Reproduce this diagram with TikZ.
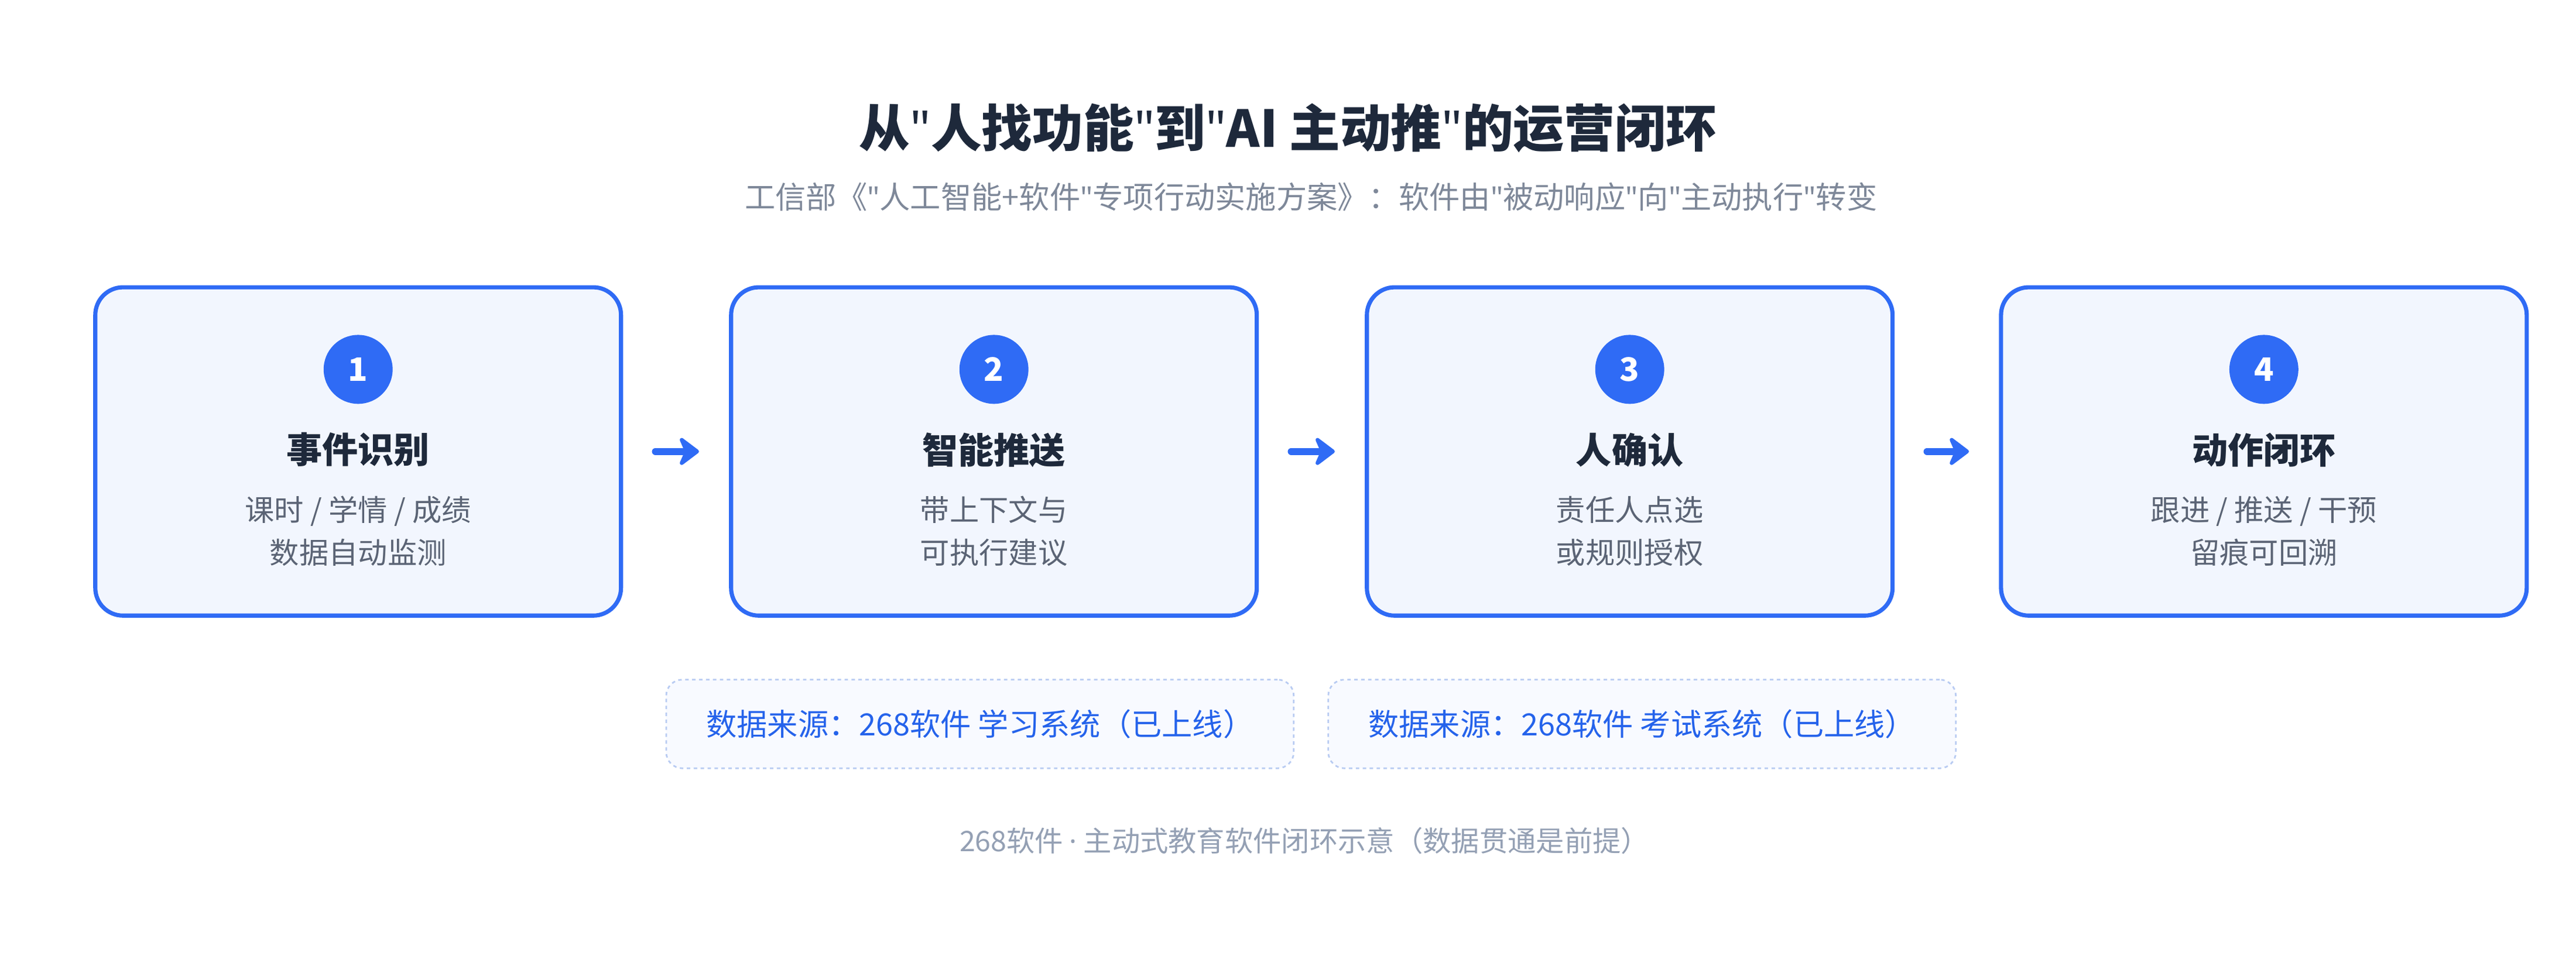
\documentclass[tikz,border=0pt]{standalone}
\usepackage{fontspec}
\setmainfont{Noto Sans CJK SC}
\newfontfamily\latinfont{Noto Sans}
\newcommand{\q}{{\latinfont"}}
\usetikzlibrary{arrows.meta}
\definecolor{mainblue}{HTML}{2F6BF5}
\definecolor{boxfill}{HTML}{F2F6FE}
\definecolor{darktext}{HTML}{1E293B}
\definecolor{graytext}{HTML}{5B6475}
\definecolor{softgray}{HTML}{94A0B4}
\definecolor{dashline}{HTML}{B8CBF2}
\definecolor{srctext}{HTML}{2563EB}
\tikzset{
  stepbox/.style={draw=mainblue,line width=3.6pt,fill=boxfill,rounded corners=24pt,
    minimum width=16cm,minimum height=10cm},
  num/.style={circle,fill=mainblue,text=white,minimum size=2.1cm,inner sep=0pt,
    font=\fontsize{28}{30}\selectfont\bfseries},
  head/.style={text=darktext,font=\fontsize{31}{34}\selectfont\bfseries},
  body/.style={text=graytext,align=center,font=\fontsize{25.5}{37}\selectfont},
  flow/.style={-{Stealth[round,length=20pt,width=30pt]},mainblue,line width=6pt,line cap=round},
  src/.style={draw=dashline,dashed,line width=1.4pt,fill=boxfill!50,rounded corners=14pt,
    minimum width=19.1cm,minimum height=2.7cm,text=srctext,font=\fontsize{26.5}{30}\selectfont}
}
\begin{document}
\begin{tikzpicture}[x=0.05cm,y=-0.05cm]
  \useasboundingbox[fill=white] (0,0) rectangle (1568,580.2);
  \node[text=darktext,font=\fontsize{44}{48}\selectfont\bfseries] (title) at (784,78)
    {从\q 人找功能\q 到\q AI 主动推\q 的运营闭环};
  \node[text=softgray!85!black,font=\fontsize{26.5}{30}\selectfont] (subtitle) at (798,120)
    {工信部《\q 人工智能+软件\q 专项行动实施方案》：软件由\q 被动响应\q 向\q 主动执行\q 转变};
  % four steps
  \foreach \i/\cx/\h/\la/\lb in {
      1/218/事件识别/{课时 / 学情 / 成绩}/数据自动监测,
      2/605/智能推送/带上下文与/可执行建议,
      3/992/人确认/责任人点选/或规则授权,
      4/1378/动作闭环/{跟进 / 推送 / 干预}/留痕可回溯} {
    \node[stepbox] (box\i) at (\cx,275) {};
    \node[num] (num\i) at (\cx,225) {\i};
    \node[head] (head\i) at (\cx,274) {\h};
    \node[body] (txt\i) at (\cx,323.5) {\la\\\lb};
  }
  \foreach \a/\b in {1/2,2/3,3/4}
    \draw[flow] ([xshift=28pt]box\a.east) -- ([xshift=-26pt]box\b.west);
  % data sources
  \node[src] (srcA) at (596.5,441) {数据来源：268软件 学习系统（已上线）};
  \node[src] (srcB) at (999.5,441) {数据来源：268软件 考试系统（已上线）};
  \node[text=softgray,font=\fontsize{24.5}{28}\selectfont] (footer) at (794,512)
    {268软件 {\latinfont·} 主动式教育软件闭环示意（数据贯通是前提）};
\end{tikzpicture}
\end{document}
